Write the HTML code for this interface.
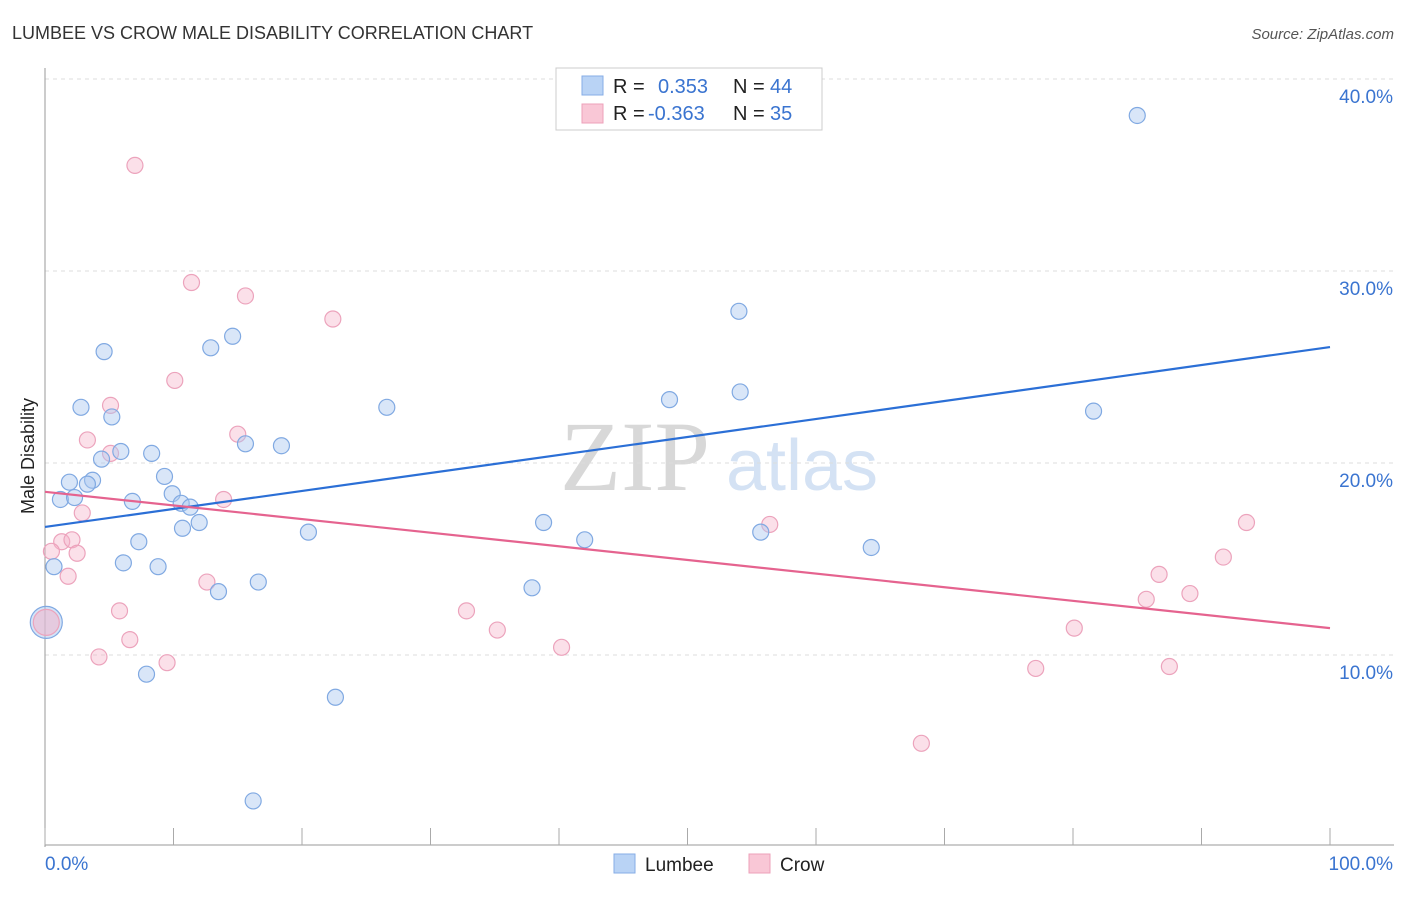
<!DOCTYPE html>
<html><head><meta charset="utf-8"><style>
body{margin:0;background:#fff;font-family:"Liberation Sans",sans-serif;}
svg text{font-family:"Liberation Sans",sans-serif;}
</style></head><body>
<svg id="chart" width="1406" height="892" xmlns="http://www.w3.org/2000/svg">
<text x="12" y="39" font-size="18" fill="#333">LUMBEE VS CROW MALE DISABILITY CORRELATION CHART</text>
<text x="1394" y="39" font-size="15" fill="#555" font-style="italic" text-anchor="end">Source: ZipAtlas.com</text>
<g>
<text x="635" y="490" font-size="100" fill="#d8d8d8" style="font-family:'Liberation Serif',serif" text-anchor="middle">ZIP</text>
<text x="802" y="490" font-size="72" fill="#d4e2f4" text-anchor="middle">atlas</text>
</g>
<g id="grid"></g>
<g id="axes"></g>
<g id="marks"></g>
<text x="34" y="456" font-size="18" fill="#222" text-anchor="middle" transform="rotate(-90 34 456)">Male Disability</text>
<g>
<rect x="556" y="68" width="266" height="62" fill="#fff" stroke="#ccc"/>
<rect x="582" y="76" width="21" height="19" fill="#b9d3f5" stroke="#86ade6"/>
<rect x="582" y="104" width="21" height="19" fill="#f9c7d6" stroke="#eda0ba"/>
<text x="613" y="93" font-size="20" fill="#222">R =</text>
<text x="658" y="93" font-size="20" fill="#3a74d0">0.353</text>
<text x="733" y="93" font-size="20" fill="#222">N =</text>
<text x="770" y="93" font-size="20" fill="#3a74d0">44</text>
<text x="613" y="120" font-size="20" fill="#222">R =</text>
<text x="648" y="120" font-size="20" fill="#3a74d0">-0.363</text>
<text x="733" y="120" font-size="20" fill="#222">N =</text>
<text x="770" y="120" font-size="20" fill="#3a74d0">35</text>
</g>
<g>
<rect x="614" y="854" width="21" height="19" fill="#b9d3f5" stroke="#86ade6"/>
<text x="645" y="871" font-size="19" fill="#222">Lumbee</text>
<rect x="749" y="854" width="21" height="19" fill="#f9c7d6" stroke="#eda0ba"/>
<text x="780" y="871" font-size="19" fill="#222">Crow</text>
</g>
</svg>
<script>
const yTicks=[10,20,30,40];
const yTickLabels=["10.0%","20.0%","30.0%","40.0%"];
const lumbeeX=[85.0,54.0,4.6,12.9,14.6,2.8,5.2,26.6,48.6,54.1,81.6,5.9,4.4,8.3,15.6,18.4,1.9,3.7,3.3,9.3,1.2,2.3,6.8,9.9,10.6,11.3,10.7,12.0,20.5,38.8,42.0,55.7,64.3,7.3,0.7,6.1,8.8,13.5,16.6,37.9,7.9,22.6,16.2];
const lumbeeY=[38.1,27.9,25.8,26.0,26.6,22.9,22.4,22.9,23.3,23.7,22.7,20.6,20.2,20.5,21.0,20.9,19.0,19.1,18.9,19.3,18.1,18.2,18.0,18.4,17.9,17.7,16.6,16.9,16.4,16.9,16.0,16.4,15.6,15.9,14.6,14.8,14.6,13.3,13.8,13.5,9.0,7.8,2.4];
const crowX=[7.0,11.4,15.6,22.4,10.1,5.1,3.3,15.0,5.1,13.9,2.9,1.3,2.1,0.5,2.5,1.8,12.6,5.8,6.6,4.2,9.5,32.8,35.2,40.2,56.4,93.5,91.7,86.7,85.7,89.1,80.1,77.1,87.5,68.2];
const crowY=[35.5,29.4,28.7,27.5,24.3,23.0,21.2,21.5,20.5,18.1,17.4,15.9,16.0,15.4,15.3,14.1,13.8,12.3,10.8,9.9,9.6,12.3,11.3,10.4,16.8,16.9,15.1,14.2,12.9,13.2,11.4,9.3,9.4,5.4];
const sharedPoint=[0.1,11.7];
const lumbeeTrend=[16.67,26.04];
const crowTrend=[18.5,11.4];
const NS="http://www.w3.org/2000/svg";
const X0=45,X1=1330,Y0=847,PX=19.2;
const sx=v=>X0+(X1-X0)*v/100;
const sy=v=>Y0-v*PX;
function mk(parent,tag,attrs){const e=document.createElementNS(NS,tag);for(const k in attrs)e.setAttribute(k,attrs[k]);document.getElementById(parent).appendChild(e);return e;}
yTicks.forEach((t,i)=>{
 const l=mk('grid','line',{x1:X0,x2:1394,y1:sy(t),y2:sy(t),stroke:'#ddd','stroke-dasharray':'4,4'});
 
 
 const tx=mk('grid','text',{x:1393,y:sy(t)+24,'font-size':19,fill:'#3a74d0','text-anchor':'end'});
 tx.textContent=yTickLabels[i];
 
 
});
const ax=mk('axes','line',{x1:X0,x2:X0,y1:68,y2:847,stroke:'#999'});


const bx=mk('axes','line',{x1:X0,x2:1394,y1:845,y2:845,stroke:'#999'});


for(let i=0;i<=10;i++){const t=mk('axes','line',{x1:sx(i*10),x2:sx(i*10),y1:828,y2:845,stroke:'#aaa'});
 
 }
const xl0=mk('axes','text',{x:45,y:870,'font-size':19,fill:'#3a74d0'});xl0.textContent='0.0%';


const xl1=mk('axes','text',{x:1393,y:870,'font-size':19,fill:'#3a74d0','text-anchor':'end'});xl1.textContent='100.0%';


crowX.forEach((v,i)=>{const c=mk('marks','circle',{cx:sx(v),cy:sy(crowY[i]),r:8,fill:'rgba(246,178,200,0.4)',stroke:'#eca3bc','stroke-width':1.2});
 
 });
lumbeeX.forEach((v,i)=>{const c=mk('marks','circle',{cx:sx(v),cy:sy(lumbeeY[i]),r:8,fill:'rgba(170,200,240,0.45)',stroke:'#80a9e2','stroke-width':1.2});
 
 });
const bp=mk('marks','circle',{cx:sx(sharedPoint[0]),cy:sy(sharedPoint[1]),r:16,fill:'rgba(170,200,240,0.5)',stroke:'#80a9e2','stroke-width':1.2});


const pp=mk('marks','circle',{cx:sx(sharedPoint[0]),cy:sy(sharedPoint[1]),r:13,fill:'rgba(246,178,200,0.5)',stroke:'#eca3bc','stroke-width':1.2});


const lt=mk('marks','line',{x1:sx(0),y1:sy(lumbeeTrend[0]),x2:sx(100),y2:sy(lumbeeTrend[1]),stroke:'#2b6fd6','stroke-width':2.2});


const ct=mk('marks','line',{x1:sx(0),y1:sy(crowTrend[0]),x2:sx(100),y2:sy(crowTrend[1]),stroke:'#e5638f','stroke-width':2.2});


</script>
</body></html>
